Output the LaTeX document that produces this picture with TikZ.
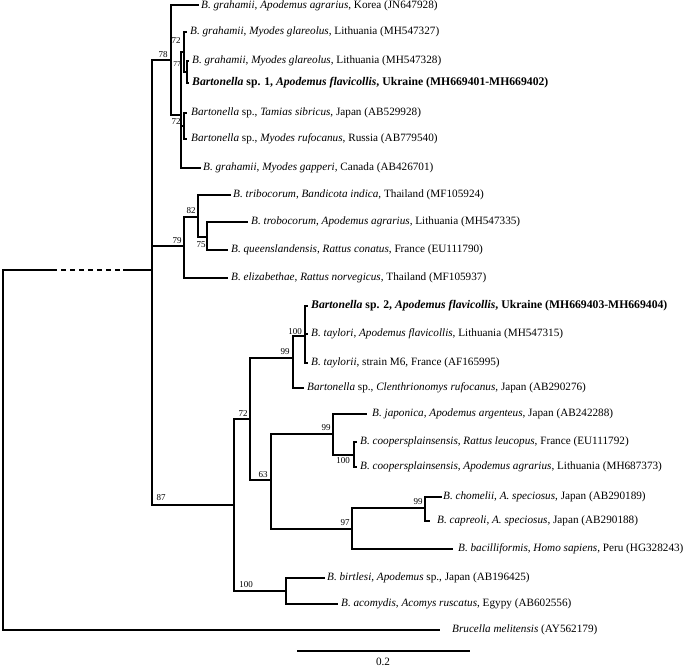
\documentclass[tikz,border=0pt]{standalone}
\usepackage{fontspec}
\setmainfont{Liberation Serif}
\begin{document}
\begin{tikzpicture}[x=1pt,y=-1pt,
  br/.style={line width=1.3pt},
  lf/.style={anchor=west,inner sep=0pt,font=\fontsize{11.2}{13}\selectfont},
  lfb/.style={anchor=west,inner sep=0pt,font=\fontsize{11.7}{13}\selectfont\bfseries},
  bs/.style={inner sep=0pt,font=\fontsize{9}{10}\selectfont}]
\useasboundingbox (0,0) rectangle (685,667);
% internal nodes
\coordinate (root) at (3,450);
\coordinate (n0) at (152,270);
\coordinate (d1) at (52,270);
\coordinate (d2) at (123,270);
\coordinate (n78) at (171,60);
\coordinate (nX) at (181,115);
\coordinate (nP) at (184,52);
\coordinate (nR) at (187,72);
\coordinate (nQ) at (184,126);
\coordinate (n79) at (184,246);
\coordinate (n82) at (198,217);
\coordinate (n75) at (207,237);
\coordinate (n87) at (234,505);
\coordinate (n72) at (250,419);
\coordinate (n99a) at (293,358);
\coordinate (n100a) at (305,336);
\coordinate (n63) at (271,480);
\coordinate (n99b) at (333,434);
\coordinate (n100b) at (354,455);
\coordinate (n97) at (352,529);
\coordinate (n99c) at (425,508);
\coordinate (n100c) at (286,591);
% tips
\coordinate (t1) at (199,5);
\coordinate (t2) at (187,32);
\coordinate (t3) at (189,61);
\coordinate (t4) at (189,83);
\coordinate (t5) at (187,113);
\coordinate (t6) at (187,139);
\coordinate (t7) at (201,168);
\coordinate (t8) at (231,195);
\coordinate (t9) at (248,222);
\coordinate (t10) at (228,250);
\coordinate (t11) at (228,278);
\coordinate (t12) at (308,306);
\coordinate (t13) at (308,334);
\coordinate (t14) at (308,363);
\coordinate (t15) at (304,388);
\coordinate (t16) at (367,414);
\coordinate (t17) at (357,442);
\coordinate (t18) at (357,467);
\coordinate (t19) at (442,497);
\coordinate (t20) at (430,521);
\coordinate (t21) at (453,549);
\coordinate (t22) at (325,578);
\coordinate (t23) at (338,604);
\coordinate (t24) at (440,630);
% labels
\node[lf] (L1) at (201,6) {\textit{B. grahamii}, \textit{Apodemus agrarius}, Korea (JN647928)};
\node[lf] (L2) at (190,32) {\textit{B. grahamii}, \textit{Myodes glareolus}, Lithuania (MH547327)};
\node[lf] (L3) at (192,61) {\textit{B. grahamii}, \textit{Myodes glareolus}, Lithuania (MH547328)};
\node[lfb] (L4) at (192,83) {\textit{Bartonella} sp. 1, \textit{Apodemus flavicollis}, Ukraine (MH669401-MH669402)};
\node[lf] (L5) at (191,113) {\textit{Bartonella} sp., \textit{Tamias sibricus}, Japan (AB529928)};
\node[lf] (L6) at (191,139) {\textit{Bartonella} sp., \textit{Myodes rufocanus}, Russia (AB779540)};
\node[lf] (L7) at (203,168) {\textit{B. grahamii}, \textit{Myodes gapperi}, Canada (AB426701)};
\node[lf] (L8) at (233,195) {\textit{B. tribocorum}, \textit{Bandicota indica}, Thailand (MF105924)};
\node[lf] (L9) at (251,222) {\textit{B. trobocorum}, \textit{Apodemus agrarius}, Lithuania (MH547335)};
\node[lf] (L10) at (231,250) {\textit{B. queenslandensis}, \textit{Rattus conatus}, France (EU111790)};
\node[lf] (L11) at (231,278) {\textit{B. elizabethae}, \textit{Rattus norvegicus}, Thailand (MF105937)};
\node[lfb] (L12) at (311,306) {\textit{Bartonella} sp. 2, \textit{Apodemus flavicollis}, Ukraine (MH669403-MH669404)};
\node[lf] (L13) at (311,334) {\textit{B. taylori}, \textit{Apodemus flavicollis}, Lithuania (MH547315)};
\node[lf] (L14) at (311,363) {\textit{B. taylorii}, strain M6, France (AF165995)};
\node[lf] (L15) at (307,388) {\textit{Bartonella} sp., \textit{Clenthrionomys rufocanus}, Japan (AB290276)};
\node[lf] (L16) at (372,414) {\textit{B. japonica}, \textit{Apodemus argenteus}, Japan (AB242288)};
\node[lf] (L17) at (360,442) {\textit{B. coopersplainsensis}, \textit{Rattus leucopus}, France (EU111792)};
\node[lf] (L18) at (360,467) {\textit{B. coopersplainsensis}, \textit{Apodemus agrarius}, Lithuania (MH687373)};
\node[lf] (L19) at (443,497) {\textit{B. chomelii}, \textit{A. speciosus}, Japan (AB290189)};
\node[lf] (L20) at (437,521) {\textit{B. capreoli}, \textit{A. speciosus}, Japan (AB290188)};
\node[lf] (L21) at (458,549) {\textit{B. bacilliformis}, \textit{Homo sapiens}, Peru (HG328243)};
\node[lf] (L22) at (327,578) {\textit{B. birtlesi}, \textit{Apodemus} sp., Japan (AB196425)};
\node[lf] (L23) at (341,604) {\textit{B. acomydis}, \textit{Acomys ruscatus}, Egypy (AB602556)};
\node[lf] (L24) at (452,630) {\textit{Brucella melitensis} (AY562179)};
% branches
\draw[br] (root) |- (d1);
\draw[br,dash pattern=on 5pt off 4pt] (d1) -- (d2);
\draw[br] (d2) -- (n0);
\draw[br] (root) |- (t24);
\draw[br] (n0) |- (n78);
\draw[br] (n0) |- (n79);
\draw[br] (n0) |- (n87);
\draw[br] (n78) |- (t1);
\draw[br] (n78) |- (nX);
\draw[br] (nX) |- (nP);
\draw[br] (nX) |- (nQ);
\draw[br] (nX) |- (t7);
\draw[br] (nP) |- (t2);
\draw[br] (nP) |- (nR);
\draw[br] (nR) |- (t3);
\draw[br] (nR) |- (t4);
\draw[br] (nQ) |- (t5);
\draw[br] (nQ) |- (t6);
\draw[br] (n79) |- (n82);
\draw[br] (n79) |- (t11);
\draw[br] (n82) |- (t8);
\draw[br] (n82) |- (n75);
\draw[br] (n75) |- (t9);
\draw[br] (n75) |- (t10);
\draw[br] (n87) |- (n72);
\draw[br] (n87) |- (n100c);
\draw[br] (n72) |- (n99a);
\draw[br] (n72) |- (n63);
\draw[br] (n99a) |- (n100a);
\draw[br] (n99a) |- (t15);
\draw[br] (n100a) |- (t12);
\draw[br] (n100a) |- (t13);
\draw[br] (n100a) |- (t14);
\draw[br] (n63) |- (n99b);
\draw[br] (n63) |- (n97);
\draw[br] (n99b) |- (t16);
\draw[br] (n99b) |- (n100b);
\draw[br] (n100b) |- (t17);
\draw[br] (n100b) |- (t18);
\draw[br] (n97) |- (n99c);
\draw[br] (n97) |- (t21);
\draw[br] (n99c) |- (t19);
\draw[br] (n99c) |- (t20);
\draw[br] (n100c) |- (t22);
\draw[br] (n100c) |- (t23);
% bootstrap values
\node[bs] (b78) at (163,55) {78};
\node[bs] (b72a) at (176,41) {72};
\node[bs,font=\fontsize{7.5}{9}\selectfont] (b77) at (177,64) {77};
\node[bs] (b72b) at (176,122) {72};
\node[bs] (b79) at (177,241) {79};
\node[bs] (b82) at (191,211) {82};
\node[bs] (b75) at (201,245) {75};
\node[bs] (b87) at (161,498) {87};
\node[bs] (b72c) at (243,414) {72};
\node[bs] (b99a) at (285,352) {99};
\node[bs] (b100a) at (295,332) {100};
\node[bs] (b63) at (263,475) {63};
\node[bs] (b99b) at (326,428) {99};
\node[bs] (b100b) at (343,461) {100};
\node[bs] (b97) at (345,523) {97};
\node[bs] (b99c) at (418,502) {99};
\node[bs] (b100c) at (246,585) {100};
% scale bar
\coordinate (s1) at (297,651);
\coordinate (s2) at (470,651);
\draw[line width=1.2pt] (s1) -- (s2);
\node[lf,anchor=center] (sc) at (383,662) {0.2};
\end{tikzpicture}
\end{document}
